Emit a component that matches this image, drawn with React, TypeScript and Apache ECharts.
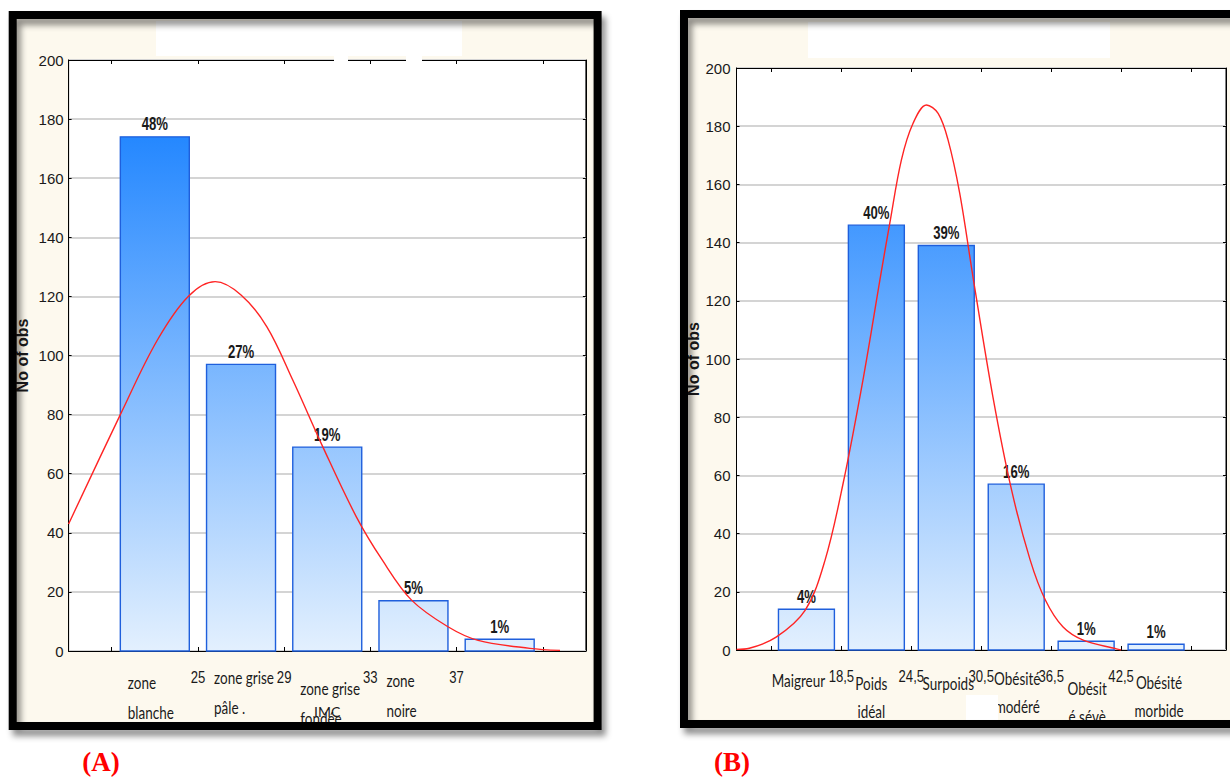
import React, { useEffect, useRef } from 'react';
import * as echarts from 'echarts';

// ---------- data (A) ----------
const leftBinEdges = [21, 25, 29, 33, 37, 41];
const leftCounts = [174, 97, 69, 17, 4];
const leftPercents = ['48%', '27%', '19%', '5%', '1%'];
const leftCategories = ['zone\nblanche', 'zone grise\npâle .', 'zone grise\nfondée', 'zone\nnoire'];
const leftBoundaryLabels = [25, 29, 33, 37];
const leftCurve = [
  [19.0, 43], [21.4, 80], [23.1, 105], [24.55, 120], [25.8, 125], [27.0, 120.5],
  [28.2, 109.7], [29.4, 91.7], [30.8, 69], [32.35, 45.4], [33.55, 30.8], [34.9, 17.3],
  [36.6, 8.2], [38.0, 3.6], [40.4, 0.9], [41.8, 0.2],
];

// ---------- data (B) ----------
const rightBinEdges = [12.5, 18.5, 24.5, 30.5, 36.5, 42.5, 48.5];
const rightCounts = [14, 146, 139, 57, 3, 2];
const rightPercents = ['4%', '40%', '39%', '16%', '1%', '1%'];
const rightCategories = ['Maigreur', 'Poids\nidéal', 'Surpoids', 'Obésité\nmodéré', 'Obésit\né sévè', 'Obésité\nmorbide'];
const rightBoundaryLabels = [18.5, 24.5, 30.5, 36.5, 42.5];
const rightCurve = [
  [9.5, 0.2], [10.6, 0.6], [12.9, 4.4], [15.4, 13.7], [17.1, 30.9], [18.65, 57.3],
  [20.4, 93.9], [21.9, 129.4], [22.65, 146.6], [23.65, 168.4], [24.65, 181], [25.8, 187.3],
  [26.8, 184.4], [27.65, 175.3], [28.65, 157], [29.8, 128], [31.5, 87], [33.1, 55],
  [34.7, 30.9], [36.0, 17.2], [37.5, 8], [39.25, 3.4], [42.1, 0.4], [42.5, 0],
];

const yMax = 200;
const yStep = 20;

// ---------- layout / style constants ----------
const SANS = '"Liberation Sans", Arial, sans-serif';
const HUMAN = 'Lato, "Liberation Sans", sans-serif';
const SERIF = '"Liberation Serif", "Times New Roman", serif';
const CREAM = '#fdf9ee';
const NARROW_SCALE = 0.82;
const leftLabelFirstLine = [31, 26, 37, 29];
const leftLabelDx = -27;
const rightLabelFirstLine = [30, 33, 33, 28, 38, 32];
const rightLabelDx = [-8, -5, 2, 1, 1, 3];

function barSeries(edges: number[], counts: number[], pcts: string[], xi: number) {
  return {
    type: 'custom',
    xAxisIndex: xi,
    yAxisIndex: xi,
    z: 2,
    data: counts.map((c, i) => [edges[i], c, edges[i + 1]]),
    renderItem: (params: any, api: any) => {
      const x0 = api.value(0);
      const v = api.value(1);
      const x1 = api.value(2);
      const pad = (x1 - x0) * 0.1;
      const p0 = api.coord([x0 + pad, v]);
      const p1 = api.coord([x1 - pad, 0]);
      const top = api.coord([x0, yMax])[1];
      const grad = new echarts.graphic.LinearGradient(
        0, top, 0, p1[1],
        [
          { offset: 0, color: '#0878ff' },
          { offset: 1, color: '#e3f0fe' },
        ],
        true
      );
      return {
        type: 'group',
        children: [
          {
            type: 'rect',
            shape: { x: p0[0], y: p0[1], width: p1[0] - p0[0], height: p1[1] - p0[1] },
            style: { fill: grad, stroke: '#1f5fdc', lineWidth: 1.4 },
          },
          {
            type: 'text',
            x: (p0[0] + p1[0]) / 2,
            y: p0[1] - 4,
            scaleX: NARROW_SCALE,
            scaleY: 1.1,
            z2: 10,
            style: {
              text: pcts[params.dataIndex],
              align: 'center',
              verticalAlign: 'bottom',
              font: `bold 16px ${SANS}`,
              fill: '#1a1a1a',
            },
          },
        ],
      };
    },
  };
}

function categorySeries(edges: number[], cats: string[], xi: number, firstLine: number[], dx: (i: number) => number, align: string, lh: number) {
  return {
    type: 'custom',
    xAxisIndex: xi,
    yAxisIndex: xi,
    silent: true,
    clip: false,
    data: cats.map((_, i) => [(edges[i] + edges[i + 1]) / 2, 0]),
    renderItem: (params: any, api: any) => {
      const p = api.coord([api.value(0), 0]);
      const i = params.dataIndex;
      const sy = 1.15;
      return {
        type: 'text',
        x: p[0] + dx(i),
        y: p[1] + firstLine[i] - (lh * sy) / 2,
        scaleX: 0.9,
        scaleY: sy,
        style: {
          text: cats[i],
          align,
          verticalAlign: 'top',
          lineHeight: lh,
          font: `15px ${HUMAN}`,
          fill: '#1a1a1a',
        },
      };
    },
  };
}

function boundarySeries(values: number[], xi: number) {
  return {
    type: 'custom',
    xAxisIndex: xi,
    yAxisIndex: xi,
    silent: true,
    clip: false,
    data: values.map((v) => [v, 0]),
    renderItem: (params: any, api: any) => {
      const v = api.value(0);
      const p = api.coord([v, 0]);
      return {
        type: 'text',
        x: p[0],
        y: p[1] + 26,
        scaleX: NARROW_SCALE,
        scaleY: 1.08,
        style: {
          text: String(values[params.dataIndex]).replace('.', ','),
          align: 'center',
          verticalAlign: 'middle',
          font: `16px ${SANS}`,
          fill: '#1a1a1a',
        },
      };
    },
  };
}

function curveSeries(data: number[][], xi: number) {
  return {
    type: 'line',
    xAxisIndex: xi,
    yAxisIndex: xi,
    data,
    smooth: 0.35,
    symbol: 'none',
    z: 3,
    lineStyle: { color: '#ff2424', width: 1.4 },
  };
}

function xAxes(gridIndex: number, min: number, max: number, edges: number[]) {
  const tick = { show: true, inside: true, length: 4, customValues: edges, lineStyle: { color: '#000' } };
  return [
    {
      type: 'value', gridIndex, min, max, position: 'bottom',
      axisLine: { show: true, onZero: false, lineStyle: { color: '#000', width: 1 } },
      axisTick: tick,
      splitLine: { show: false },
      axisLabel: { show: false },
      name: 'IMC',
      nameLocation: 'middle',
      nameGap: 53,
      nameTextStyle: { fontFamily: HUMAN, fontSize: 14, color: '#1a1a1a' },
    },
    {
      type: 'value', gridIndex, min, max, position: 'top',
      axisLine: { show: true, onZero: false, lineStyle: { color: '#000', width: 1 } },
      axisTick: tick,
      splitLine: { show: false },
      axisLabel: { show: false },
    },
  ];
}

function yAxes(gridIndex: number, margin: number, nameGap: number) {
  return [
    {
      type: 'value', gridIndex, min: 0, max: yMax, interval: yStep, position: 'left',
      axisLine: { show: true, lineStyle: { color: '#000', width: 1 } },
      axisTick: { show: true, inside: true, length: 3, lineStyle: { color: '#000' } },
      splitLine: { show: true, lineStyle: { color: '#d4d4d4', width: 1.8 } },
      axisLabel: { margin, fontFamily: SANS, fontSize: 15, color: '#1a1a1a' },
      name: 'No of obs',
      nameLocation: 'middle',
      nameRotate: 90,
      nameGap,
      nameTextStyle: { fontFamily: SANS, fontSize: 16, fontWeight: 'bold', color: '#1a1a1a' },
    },
    {
      type: 'value', gridIndex, min: 0, max: yMax, interval: yStep, position: 'right',
      axisLine: { show: true, lineStyle: { color: '#000', width: 1 } },
      axisTick: { show: true, inside: true, length: 3, lineStyle: { color: '#000' } },
      splitLine: { show: false },
      axisLabel: { show: false },
    },
  ];
}

export default function App() {
  const ref = useRef<HTMLDivElement>(null);
  useEffect(() => {
    document.body.style.margin = '0';
    if (!ref.current) return;
    const chart = echarts.init(ref.current, null, { renderer: 'svg' });
    const lx = xAxes(0, 19, 43, leftBinEdges);
    const rx = xAxes(1, 9.5, 51.5, rightBinEdges);
    const ly = yAxes(0, 5, 38);
    const ry = yAxes(1, 6, 34);
    const option: any = {
      animation: false,
      backgroundColor: '#ffffff',
      grid: [
        { left: 68.6, top: 60, width: 517.3, height: 591, show: true, backgroundColor: '#ffffff', borderColor: '#000', borderWidth: 1 },
        { left: 736.5, top: 68, width: 489.5, height: 582, show: true, backgroundColor: '#ffffff', borderColor: '#000', borderWidth: 1 },
      ],
      // order: left bottom(0), right bottom(1), left top(2), right top(3)
      xAxis: [lx[0], rx[0], lx[1], rx[1]],
      yAxis: [ly[0], ry[0], ly[1], ry[1]],
      series: [
        barSeries(leftBinEdges, leftCounts, leftPercents, 0),
        barSeries(rightBinEdges, rightCounts, rightPercents, 1),
        curveSeries(leftCurve, 0),
        curveSeries(rightCurve, 1),
        categorySeries(leftBinEdges, leftCategories, 0, leftLabelFirstLine, () => leftLabelDx, 'left', 26),
        categorySeries(rightBinEdges, rightCategories, 1, rightLabelFirstLine, (i) => rightLabelDx[i], 'center', 25),
        boundarySeries(leftBoundaryLabels, 0),
        boundarySeries(rightBoundaryLabels, 1),
      ],
      graphic: [
        // cream panel backgrounds
        { type: 'rect', z: -10, silent: true, shape: { x: 16, y: 18, width: 582, height: 705 }, style: { fill: CREAM } },
        { type: 'rect', z: -10, silent: true, shape: { x: 687, y: 17, width: 560, height: 704 }, style: { fill: CREAM } },
        // erased title areas
        { type: 'rect', z: 50, silent: true, shape: { x: 156, y: 21, width: 306, height: 35 }, style: { fill: '#ffffff' } },
        { type: 'rect', z: 50, silent: true, shape: { x: 334, y: 55, width: 14, height: 8 }, style: { fill: '#ffffff' } },
        { type: 'rect', z: 50, silent: true, shape: { x: 406, y: 55, width: 16, height: 8 }, style: { fill: '#ffffff' } },
        { type: 'rect', z: 50, silent: true, shape: { x: 808, y: 22, width: 302, height: 36 }, style: { fill: '#ffffff' } },
        { type: 'rect', z: 50, silent: true, shape: { x: 966, y: 695, width: 32, height: 26 }, style: { fill: '#ffffff' } },
        // black frames with drop shadow
        {
          type: 'rect', z: 100, silent: true,
          shape: { x: 12.7, y: 15, width: 584.9, height: 711 },
          style: { fill: 'none', stroke: '#000', lineWidth: 8, shadowColor: 'rgba(0,0,0,0.45)', shadowBlur: 6, shadowOffsetX: 4, shadowOffsetY: 6 },
        },
        {
          type: 'rect', z: 100, silent: true,
          shape: { x: 684, y: 14, width: 600, height: 710 },
          style: { fill: 'none', stroke: '#000', lineWidth: 8, shadowColor: 'rgba(0,0,0,0.45)', shadowBlur: 6, shadowOffsetX: 4, shadowOffsetY: 6 },
        },
        // panel letters
        { type: 'text', z: 100, x: 101, y: 762, style: { text: '(A)', align: 'center', verticalAlign: 'middle', font: `bold 27px ${SERIF}`, fill: '#ff0000' } },
        { type: 'text', z: 100, x: 732, y: 762, style: { text: '(B)', align: 'center', verticalAlign: 'middle', font: `bold 27px ${SERIF}`, fill: '#ff0000' } },
      ],
    };
    chart.setOption(option);
    return () => chart.dispose();
  }, []);
  return <div ref={ref} style={{ position: 'absolute', left: 0, top: 0, width: 1230, height: 778 }} />;
}
